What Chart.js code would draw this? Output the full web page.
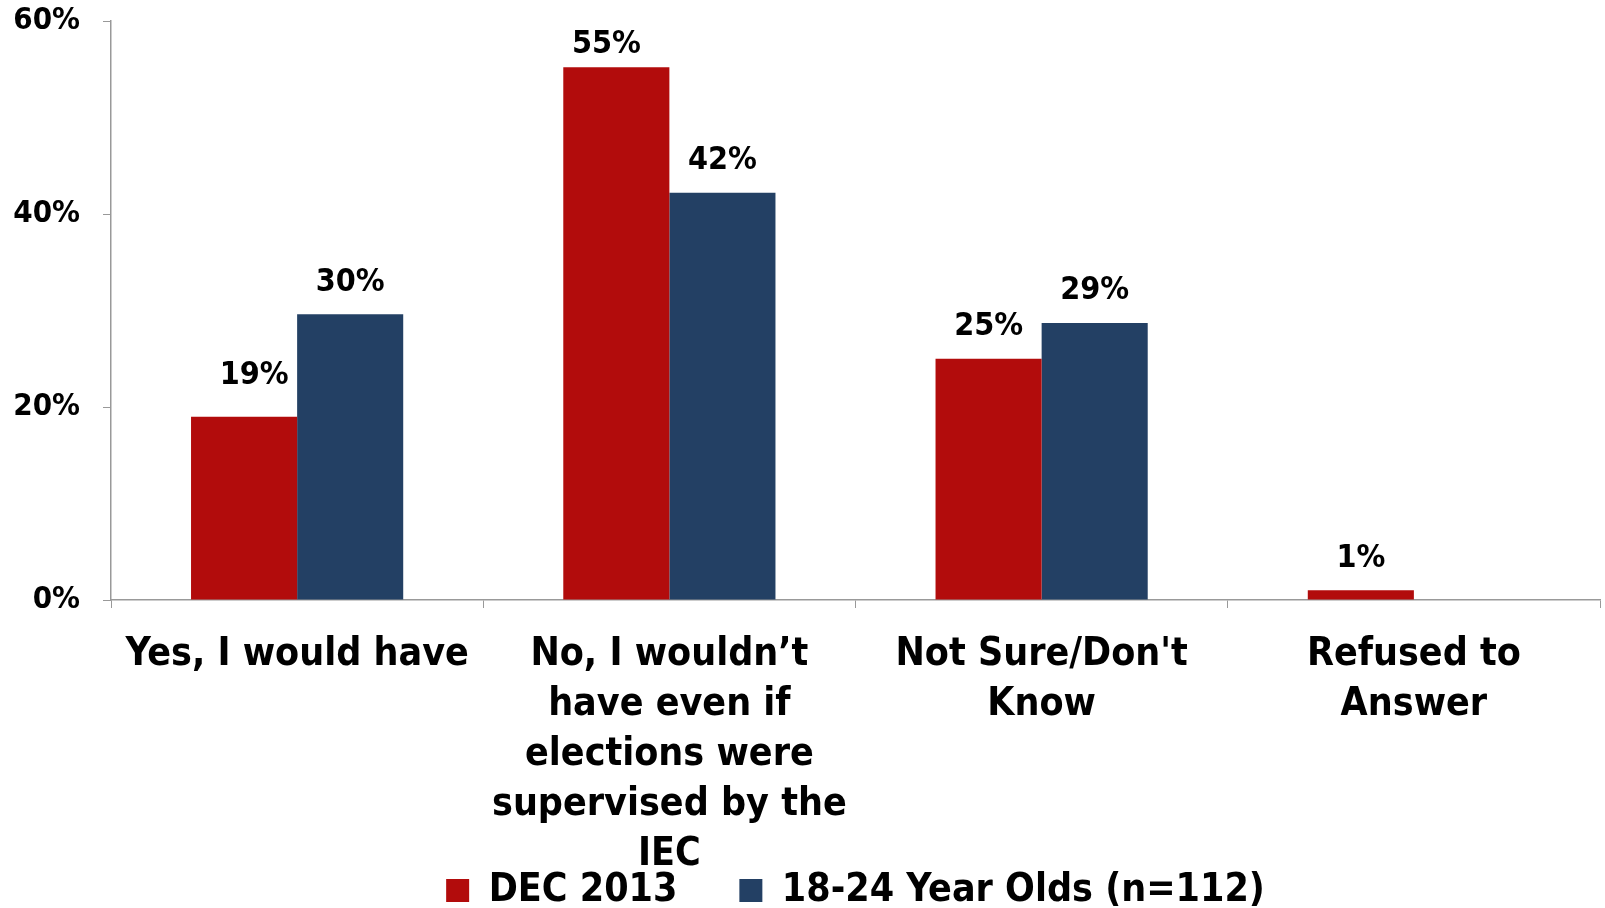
<!DOCTYPE html>
<html>
<head>
<meta charset="utf-8">
<script src="https://cdn.jsdelivr.net/npm/chart.js@4.4.1/dist/chart.umd.min.js"></script>
<style>
  html, body { margin: 0; padding: 0; background: #ffffff; }
  #wrap { width: 1605px; height: 908px; position: relative; }
</style>
</head>
<body>
<div id="wrap"><canvas id="c" width="1605" height="908"></canvas></div>
<script>
const categories = [
  ["Yes, I would have"],
  ["No, I wouldn\u2019t", "have even if", "elections were", "supervised by the", "IEC"],
  ["Not Sure/Don't", "Know"],
  ["Refused to", "Answer"]
];
const seriesNames = ["DEC 2013", "18-24 Year Olds (n=112)"];
const dec2013 = [19, 55.2, 25, 1];
const youth = [29.6, 42.2, 28.7, null];
const yTicks = [0, 20, 40, 60];

const FONT = "'DejaVu Sans Condensed', 'DejaVu Sans', sans-serif";

const valueLabels = {
  id: 'valueLabels',
  afterDatasetsDraw(chart, args, opts) {
    const ctx = chart.ctx;
    ctx.save();
    ctx.font = 'bold 32px ' + FONT;
    ctx.fillStyle = '#000';
    ctx.textAlign = 'center';
    ctx.textBaseline = 'middle';
    chart.data.datasets.forEach((ds, di) => {
      const meta = chart.getDatasetMeta(di);
      meta.data.forEach((bar, i) => {
        const v = ds.data[i];
        if (v === null || v === undefined) return;
        const n = (opts.nudge[di] && opts.nudge[di][i]) || [0, 0];
        ctx.fillText(Math.round(v) + '%', bar.x + n[0], bar.y - 32 + n[1]);
      });
    });
    ctx.restore();
  }
};

// Let the multi-line x labels overflow downward and push the legend a bit lower
const overlapLayout = {
  id: 'overlapLayout',
  afterLayout(chart) {
    const x = chart.scales.x;
    x.bottom = chart.height;
    const lg = chart.legend;
    if (lg) { lg.top += 12; lg.bottom += 12; }
  }
};

Chart.defaults.color = '#000';

new Chart(document.getElementById('c'), {
  type: 'bar',
  data: {
    labels: categories,
    datasets: [
      { label: seriesNames[0], data: dec2013, backgroundColor: '#B20C0C', borderWidth: 0 },
      { label: seriesNames[1], data: youth, backgroundColor: '#234064', borderWidth: 0 }
    ]
  },
  options: {
    responsive: false,
    animation: false,
    layout: { padding: { top: 21, right: 5, left: 3, bottom: 0 } },
    datasets: { bar: { categoryPercentage: 0.57, barPercentage: 1.0 } },
    scales: {
      x: {
        grid: { drawOnChartArea: false, color: '#999999', tickLength: 8, offset: true },
        border: { color: '#999999', width: 1.5 },
        ticks: {
          font: { family: FONT, size: 39, weight: 'bold', lineHeight: 1.282 },
          color: '#000',
          padding: 22,
          maxRotation: 0,
          autoSkip: false
        },
        afterFit(scale) { scale.height = 197; }
      },
      y: {
        min: 0, max: 60,
        afterBuildTicks(scale) { scale.ticks = yTicks.map(v => ({ value: v })); },
        grid: { drawOnChartArea: false, color: '#999999', tickLength: 8 },
        border: { color: '#999999', width: 1.5 },
        ticks: {
          font: { family: FONT, size: 31, weight: 'bold' },
          color: '#000',
          padding: 23,
          callback: v => v + '%'
        },
        afterFit(scale) {
          scale.width = 108;
          scale.paddingTop = 18;
          scale.paddingBottom = 0;
        }
      }
    },
    plugins: {
      legend: {
        position: 'bottom',
        fullSize: false,
        labels: {
          font: { family: FONT, size: 39, weight: 'bold' },
          color: '#000',
          boxWidth: 23,
          boxHeight: 23,
          padding: 62
        }
      },
      tooltip: { enabled: false },
      valueLabels: { nudge: [[[10, -9], [-10, 9]], []] }
    }
  },
  plugins: [valueLabels, overlapLayout]
});
</script>
</body>
</html>
